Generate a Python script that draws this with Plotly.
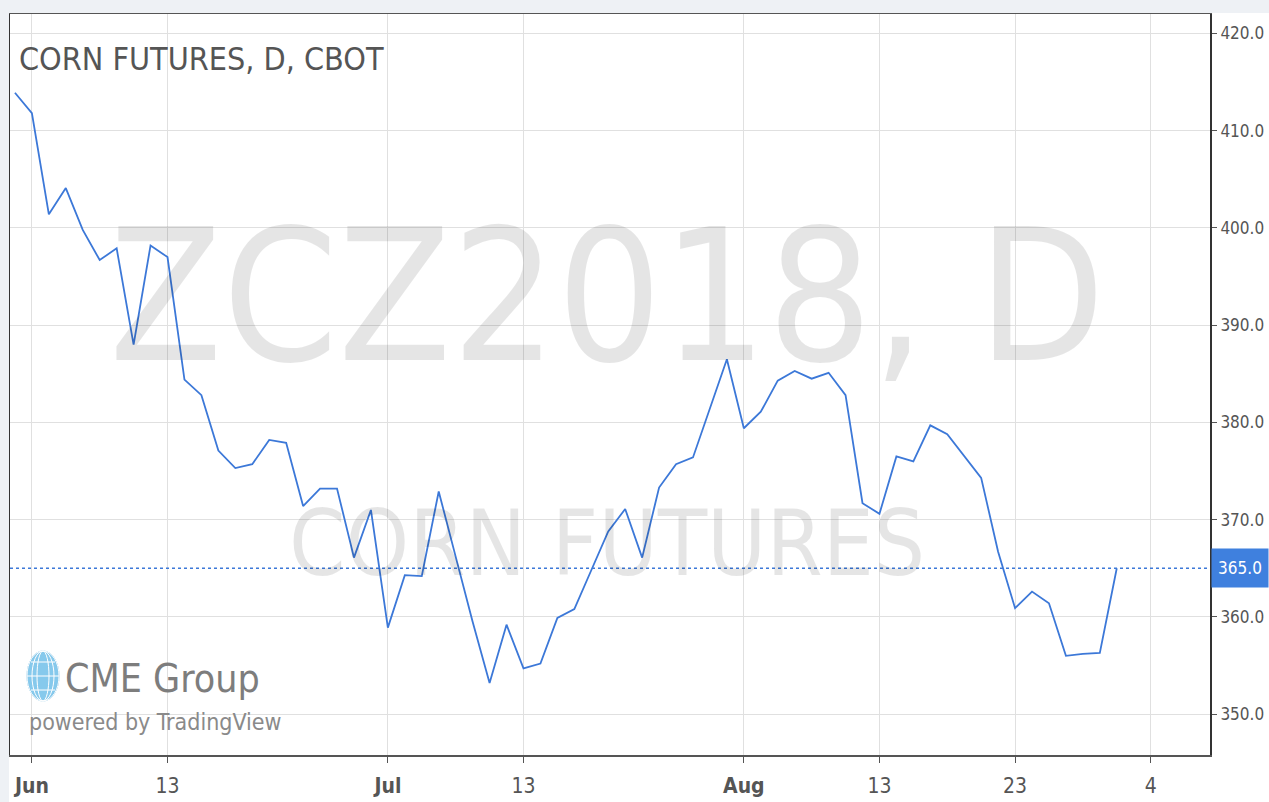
import plotly.graph_objects as go

# ---- data ----
dates = [
    "2018-05-31", "2018-06-01", "2018-06-04", "2018-06-05", "2018-06-06", "2018-06-07", "2018-06-08",
    "2018-06-11", "2018-06-12", "2018-06-13", "2018-06-14", "2018-06-15",
    "2018-06-18", "2018-06-19", "2018-06-20", "2018-06-21", "2018-06-22",
    "2018-06-25", "2018-06-26", "2018-06-27", "2018-06-28", "2018-06-29",
    "2018-07-02", "2018-07-03", "2018-07-05", "2018-07-06",
    "2018-07-09", "2018-07-10", "2018-07-11", "2018-07-12", "2018-07-13",
    "2018-07-16", "2018-07-17", "2018-07-18", "2018-07-19", "2018-07-20",
    "2018-07-23", "2018-07-24", "2018-07-25", "2018-07-26", "2018-07-27",
    "2018-07-30", "2018-07-31", "2018-08-01", "2018-08-02", "2018-08-03",
    "2018-08-06", "2018-08-07", "2018-08-08", "2018-08-09", "2018-08-10",
    "2018-08-13", "2018-08-14", "2018-08-15", "2018-08-16", "2018-08-17",
    "2018-08-20", "2018-08-21", "2018-08-22", "2018-08-23", "2018-08-24",
    "2018-08-27", "2018-08-28", "2018-08-29", "2018-08-30", "2018-08-31",
]
prices = [
    413.9, 411.8, 401.4, 404.1, 399.8, 396.7, 397.9,
    388.0, 398.2, 397.0, 384.4, 382.8,
    377.1, 375.3, 375.7, 378.2, 377.9,
    371.4, 373.2, 373.2, 366.1, 371.0,
    358.9, 364.3, 364.2, 372.9,
    366.2, 359.5, 353.2, 359.2, 354.7,
    355.2, 359.9, 360.8, 364.8, 368.8,
    371.1, 366.1, 373.3, 375.7, 376.4,
    381.5, 386.5, 379.4, 381.1, 384.3,
    385.3, 384.5, 385.1, 382.8, 371.7,
    370.6, 376.5, 376.0, 379.7, 378.8,
    376.6, 374.3, 366.7, 360.9, 362.6,
    361.4, 356.0, 356.2, 356.3, 365.0,
]
last_price = 365.0

x_tick_vals = ["2018-06-01", "2018-06-13", "2018-07-02", "2018-07-13",
               "2018-08-01", "2018-08-13", "2018-08-23", "2018-09-04"]
x_tick_text = ["<b>Jun</b>", "13", "<b>Jul</b>", "13", "<b>Aug</b>", "13", "23", "4"]
y_tick_vals = [350, 360, 370, 380, 390, 400, 410, 420]
y_tick_text = ["350.0", "360.0", "370.0", "380.0", "390.0", "400.0", "410.0", "420.0"]

title_text = "CORN FUTURES, D, CBOT"
watermark_big = "ZCZ2018, D"
watermark_small = "CORN FUTURES"

FONT = "DejaVu Sans Condensed, Liberation Sans Narrow, Roboto, sans-serif"
LINE_BLUE = "#3c78d8"
LABEL_BLUE = "#3f80de"
GRID = "#e0e0e0"
TEXT_GREY = "#555555"

W, H = 1269, 802
ML, MR, MT, MB = 10, 59, 14, 47
PW, PH = W - ML - MR, H - MT - MB


def px_x(px):
    return (px - ML) / PW


def px_y(py):
    return (H - MB - py) / PH


fig = go.Figure()
fig.add_trace(go.Scatter(
    x=dates, y=prices, mode="lines",
    line=dict(color=LINE_BLUE, width=1.8),
    hoverinfo="x+y", showlegend=False,
))

shapes = []
# light strips on top and left outside the chart frame
shapes.append(dict(type="rect", xref="paper", yref="paper",
                   x0=px_x(0), x1=px_x(ML - 1), y0=px_y(H), y1=px_y(0),
                   fillcolor="#eef1f5", line=dict(width=0), layer="above"))
shapes.append(dict(type="rect", xref="paper", yref="paper",
                   x0=px_x(0), x1=px_x(W), y0=px_y(MT - 1), y1=px_y(0),
                   fillcolor="#eef1f5", line=dict(width=0), layer="above"))
# last price dotted line
shapes.append(dict(type="line", xref="paper", yref="y", x0=0, x1=1,
                   y0=last_price, y1=last_price,
                   line=dict(color=LINE_BLUE, width=1.6, dash="dot")))
# CME globe icon
gx0, gx1, gy0, gy1 = px_x(27), px_x(59), px_y(701), px_y(651)
shapes.append(dict(type="circle", xref="paper", yref="paper",
                   x0=gx0, x1=gx1, y0=gy0, y1=gy1,
                   fillcolor="#86c9ec", line=dict(color="#6db8e2", width=1)))
for dx in (6, 11, 16):
    shapes.append(dict(type="circle", xref="paper", yref="paper",
                       x0=px_x(43 - dx), x1=px_x(43 + dx), y0=gy0, y1=gy1,
                       fillcolor="rgba(0,0,0,0)", line=dict(color="white", width=1)))
for py, half in ((662, 12), (676, 16), (690, 12)):
    shapes.append(dict(type="line", xref="paper", yref="paper",
                       x0=px_x(43 - half), x1=px_x(43 + half), y0=px_y(py), y1=px_y(py),
                       line=dict(color="white", width=1)))

annotations = [
    dict(text=watermark_big, xref="paper", yref="paper", x=px_x(607), y=px_y(296),
         xanchor="center", yanchor="middle", showarrow=False,
         font=dict(family=FONT, size=184, color="rgba(0,0,0,0.10)")),
    dict(text=watermark_small, xref="paper", yref="paper", x=px_x(607), y=px_y(543),
         xanchor="center", yanchor="middle", showarrow=False,
         font=dict(family=FONT, size=90, color="rgba(0,0,0,0.10)")),
    dict(text=title_text, xref="paper", yref="paper", x=px_x(17), y=px_y(59),
         xanchor="left", yanchor="middle", showarrow=False,
         font=dict(family=FONT, size=32, color=TEXT_GREY)),
    dict(text="CME Group", xref="paper", yref="paper", x=px_x(63), y=px_y(678),
         xanchor="left", yanchor="middle", showarrow=False,
         font=dict(family=FONT, size=39, color="#7d7d7d")),
    dict(text="powered by TradingView", xref="paper", yref="paper", x=px_x(27), y=px_y(722),
         xanchor="left", yanchor="middle", showarrow=False,
         font=dict(family=FONT, size=23, color="#8a8a8a")),
    dict(text=f"{last_price:.1f}", xref="paper", yref="y", x=1, y=last_price,
         xanchor="left", yanchor="middle", showarrow=False, xshift=1,
         width=56, height=38, bgcolor=LABEL_BLUE, borderpad=0, align="center",
         font=dict(family=FONT, size=17, color="white")),
]

fig.update_layout(
    width=W, height=H, autosize=False,
    margin=dict(l=ML, r=MR, t=MT, b=MB, pad=0, autoexpand=False),
    paper_bgcolor="white", plot_bgcolor="white",
    showlegend=False,
    shapes=shapes, annotations=annotations,
    xaxis=dict(
        type="date",
        range=["2018-05-30 17:00", "2018-09-07 12:00"],
        rangebreaks=[dict(bounds=["sat", "mon"]), dict(values=["2018-07-04"])],
        tickvals=x_tick_vals, ticktext=x_tick_text,
        tickfont=dict(family=FONT, size=21, color=TEXT_GREY),
        ticklabelstandoff=5,
        showgrid=True, gridcolor=GRID, gridwidth=1,
        ticks="outside", ticklen=6, tickcolor=TEXT_GREY, tickwidth=1,
        showline=True, linecolor="#555555", linewidth=2, mirror=True,
        zeroline=False, fixedrange=True, automargin=False,
    ),
    yaxis=dict(
        side="right",
        range=[345.8, 422.0],
        tickvals=y_tick_vals, ticktext=y_tick_text,
        tickfont=dict(family=FONT, size=17, color=TEXT_GREY),
        showgrid=True, gridcolor=GRID, gridwidth=1,
        ticks="outside", ticklen=5, tickcolor=TEXT_GREY, tickwidth=1,
        showline=True, linecolor="#333333", linewidth=2, mirror=True,
        zeroline=False, fixedrange=True, automargin=False,
    ),
)

# remove the default 8px page margin so the figure sits at the window's top-left corner
fig.write_html(
    "out.html",
    config={"displayModeBar": False},
    post_script="document.body.style.margin='0';document.body.style.overflow='hidden';",
)
